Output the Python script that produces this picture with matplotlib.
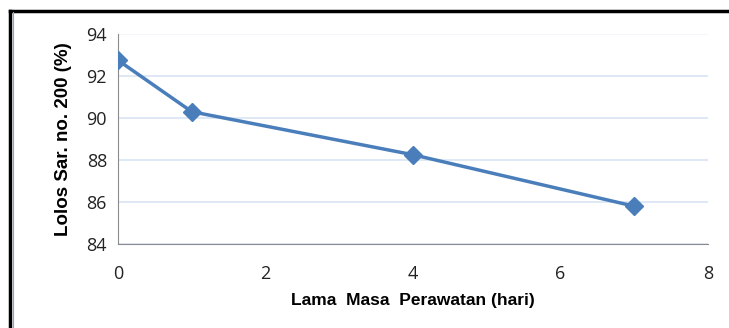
import matplotlib
matplotlib.use("Agg")
import matplotlib.pyplot as plt
from matplotlib.lines import Line2D

# curing time (days) vs passing sieve no. 200 (%)
hari = [0, 1, 4, 7]
lolos = [92.75, 90.3, 88.25, 85.8]

fig = plt.figure(figsize=(7.29, 3.28), dpi=100)
ax = fig.add_axes([0.1619, 0.2561, 0.8093, 0.6402])

ax.plot(hari, lolos, color='#4A7EBB', lw=2.5, marker='D', markersize=9, zorder=3)

ax.set_xlim(0, 8)
ax.set_ylim(84, 94)
ax.set_xticks([0, 2, 4, 6, 8])
ax.set_yticks([84, 86, 88, 90, 92, 94])
ax.grid(axis='y', color='#D6E1F3', lw=1.1)
ax.get_ygridlines()[-1].set_color('#F0F4FB')
ax.set_axisbelow(True)
for s in ['top', 'right']:
    ax.spines[s].set_visible(False)
ax.spines['left'].set_color('#8C8C8C')
ax.spines['bottom'].set_color('#8C8C8C')
ax.tick_params(length=0, labelsize=13, labelcolor='#222222')
ax.tick_params(axis='y', pad=8)
ax.tick_params(axis='x', pad=15)
for lab in ax.get_xticklabels() + ax.get_yticklabels():
    lab.set_family('Open Sans')

ax.set_xlabel('Lama  Masa  Perawatan (hari)', fontsize=12.5, fontweight='bold',
              family='Liberation Sans', labelpad=7)
ax.set_ylabel('Lolos Sar. no. 200 (%)', fontsize=13.5, fontweight='bold',
              family='Liberation Sans', labelpad=10)

# frame lines of the original picture
fig.add_artist(Line2D([0.0137, 1.0], [0.966, 0.966], color='black', lw=2.5))
fig.add_artist(Line2D([0.0137, 0.0137], [0.0, 0.966], color='black', lw=2.5))
fig.add_artist(Line2D([0.0175, 0.0175], [0.0, 0.962], color='#7FA6D6', lw=0.8))

fig.savefig('out.png', dpi=100)
